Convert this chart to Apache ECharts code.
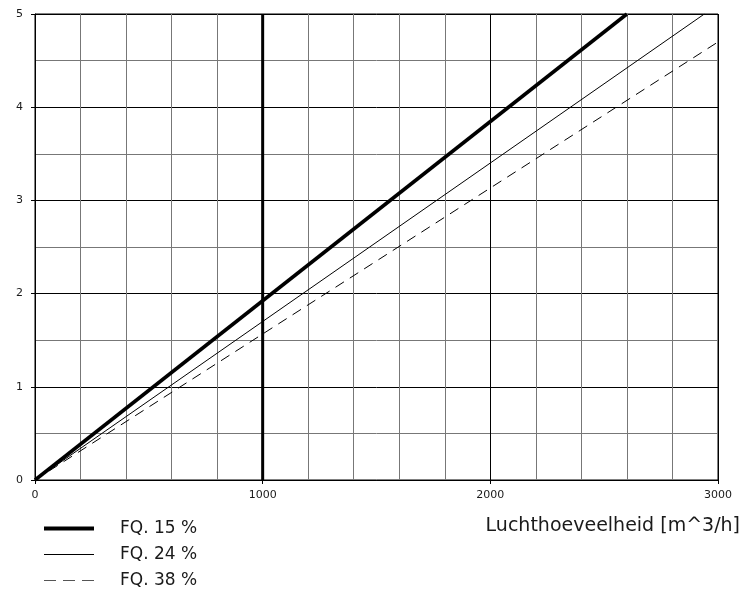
<!DOCTYPE html>
<html>
<head>
<meta charset="utf-8">
<script src="https://cdn.jsdelivr.net/npm/echarts@6/dist/echarts.min.js"></script>
<style>html,body{margin:0;padding:0;background:#fff}#c{width:749px;height:590px}</style>
</head>
<body>
<div id="c"></div>
<script>
const seriesNames = ['FQ. 15 %', 'FQ. 24 %', 'FQ. 38 %'];
const fq15 = [[0, 0], [2600, 5]];
const fq24 = [[0, 0], [2940, 5]];
const fq38 = [[0, 0], [3000, 4.7]];
const refLine = [[1000, 0], [1000, 5]];
const xLabelValues = [0, 1000, 2000, 3000];
const yLabelValues = [0, 1, 2, 3, 4, 5];
const xAxisTitle = 'Luchthoeveelheid [m^3/h]';

const font = 'DejaVu Sans, Verdana, sans-serif';
const chart = echarts.init(document.getElementById('c'), null, {renderer: 'canvas'});
chart.setOption({
  animation: false,
  backgroundColor: '#fff',
  title: {
    text: xAxisTitle,
    right: 9,
    top: 517,
    padding: 0,
    textStyle: {fontFamily: font, fontSize: 19, fontWeight: 'normal', color: '#1a1a1a'}
  },
  grid: {left: 35, right: 31, top: 14, bottom: 110, containLabel: false,
         show: true, borderColor: '#000', borderWidth: 1},
  legend: {
    orient: 'vertical', left: 42, top: 520, padding: 0,
    itemWidth: 50, itemHeight: 16, itemGap: 9,
    data: [
      {name: seriesNames[0], lineStyle: {width: 4, color: '#000'}},
      {name: seriesNames[1], lineStyle: {width: 1, color: '#000'}},
      {name: seriesNames[2], lineStyle: {width: 1, color: '#555', type: [12, 7]}}
    ],
    itemStyle: {opacity: 0},
    textStyle: {fontFamily: font, fontSize: 17, color: '#1a1a1a', padding: [0, 0, 0, 21]}
  },
  xAxis: {
    type: 'value', min: 0, max: 3000, interval: 1000,
    axisLine: {show: true, lineStyle: {color: '#000', width: 1}},
    axisTick: {show: true, length: 4, inside: false, lineStyle: {color: '#000'}},
    axisLabel: {fontFamily: font, fontSize: 11, color: '#1a1a1a', margin: 10,
      formatter: v => xLabelValues.includes(v) ? String(v) : ''},
    splitLine: {show: true, lineStyle: {color: '#000', width: 1}},
    minorTick: {show: true, splitNumber: 5, length: 0},
    minorSplitLine: {show: true, lineStyle: {color: '#777', width: 1}}
  },
  yAxis: {
    type: 'value', min: 0, max: 5, interval: 1,
    axisLine: {show: true, lineStyle: {color: '#000', width: 1}},
    axisTick: {show: true, length: 4, inside: false, lineStyle: {color: '#000'}},
    axisLabel: {fontFamily: font, fontSize: 11, color: '#1a1a1a', margin: 12,
      formatter: v => yLabelValues.includes(v) ? String(v) : ''},
    splitLine: {show: true, lineStyle: {color: '#000', width: 1}},
    minorTick: {show: true, splitNumber: 2, length: 0},
    minorSplitLine: {show: true, lineStyle: {color: '#777', width: 1}}
  },
  series: [
    {name: seriesNames[0], type: 'line', data: fq15, symbol: 'none', z: 5,
     lineStyle: {color: '#000', width: 3.5}, itemStyle: {color: '#000'}},
    {name: seriesNames[1], type: 'line', data: fq24, symbol: 'none', z: 5,
     lineStyle: {color: '#000', width: 1}, itemStyle: {color: '#000'}},
    {name: seriesNames[2], type: 'line', data: fq38, symbol: 'none', z: 5,
     lineStyle: {color: '#000', width: 1, type: [10, 7]}, itemStyle: {color: '#000'}},
    {name: 'ref', type: 'line', data: refLine, symbol: 'none', z: 4,
     lineStyle: {color: '#000', width: 3}, itemStyle: {color: '#000'}}
  ]
});
</script>
</body>
</html>
